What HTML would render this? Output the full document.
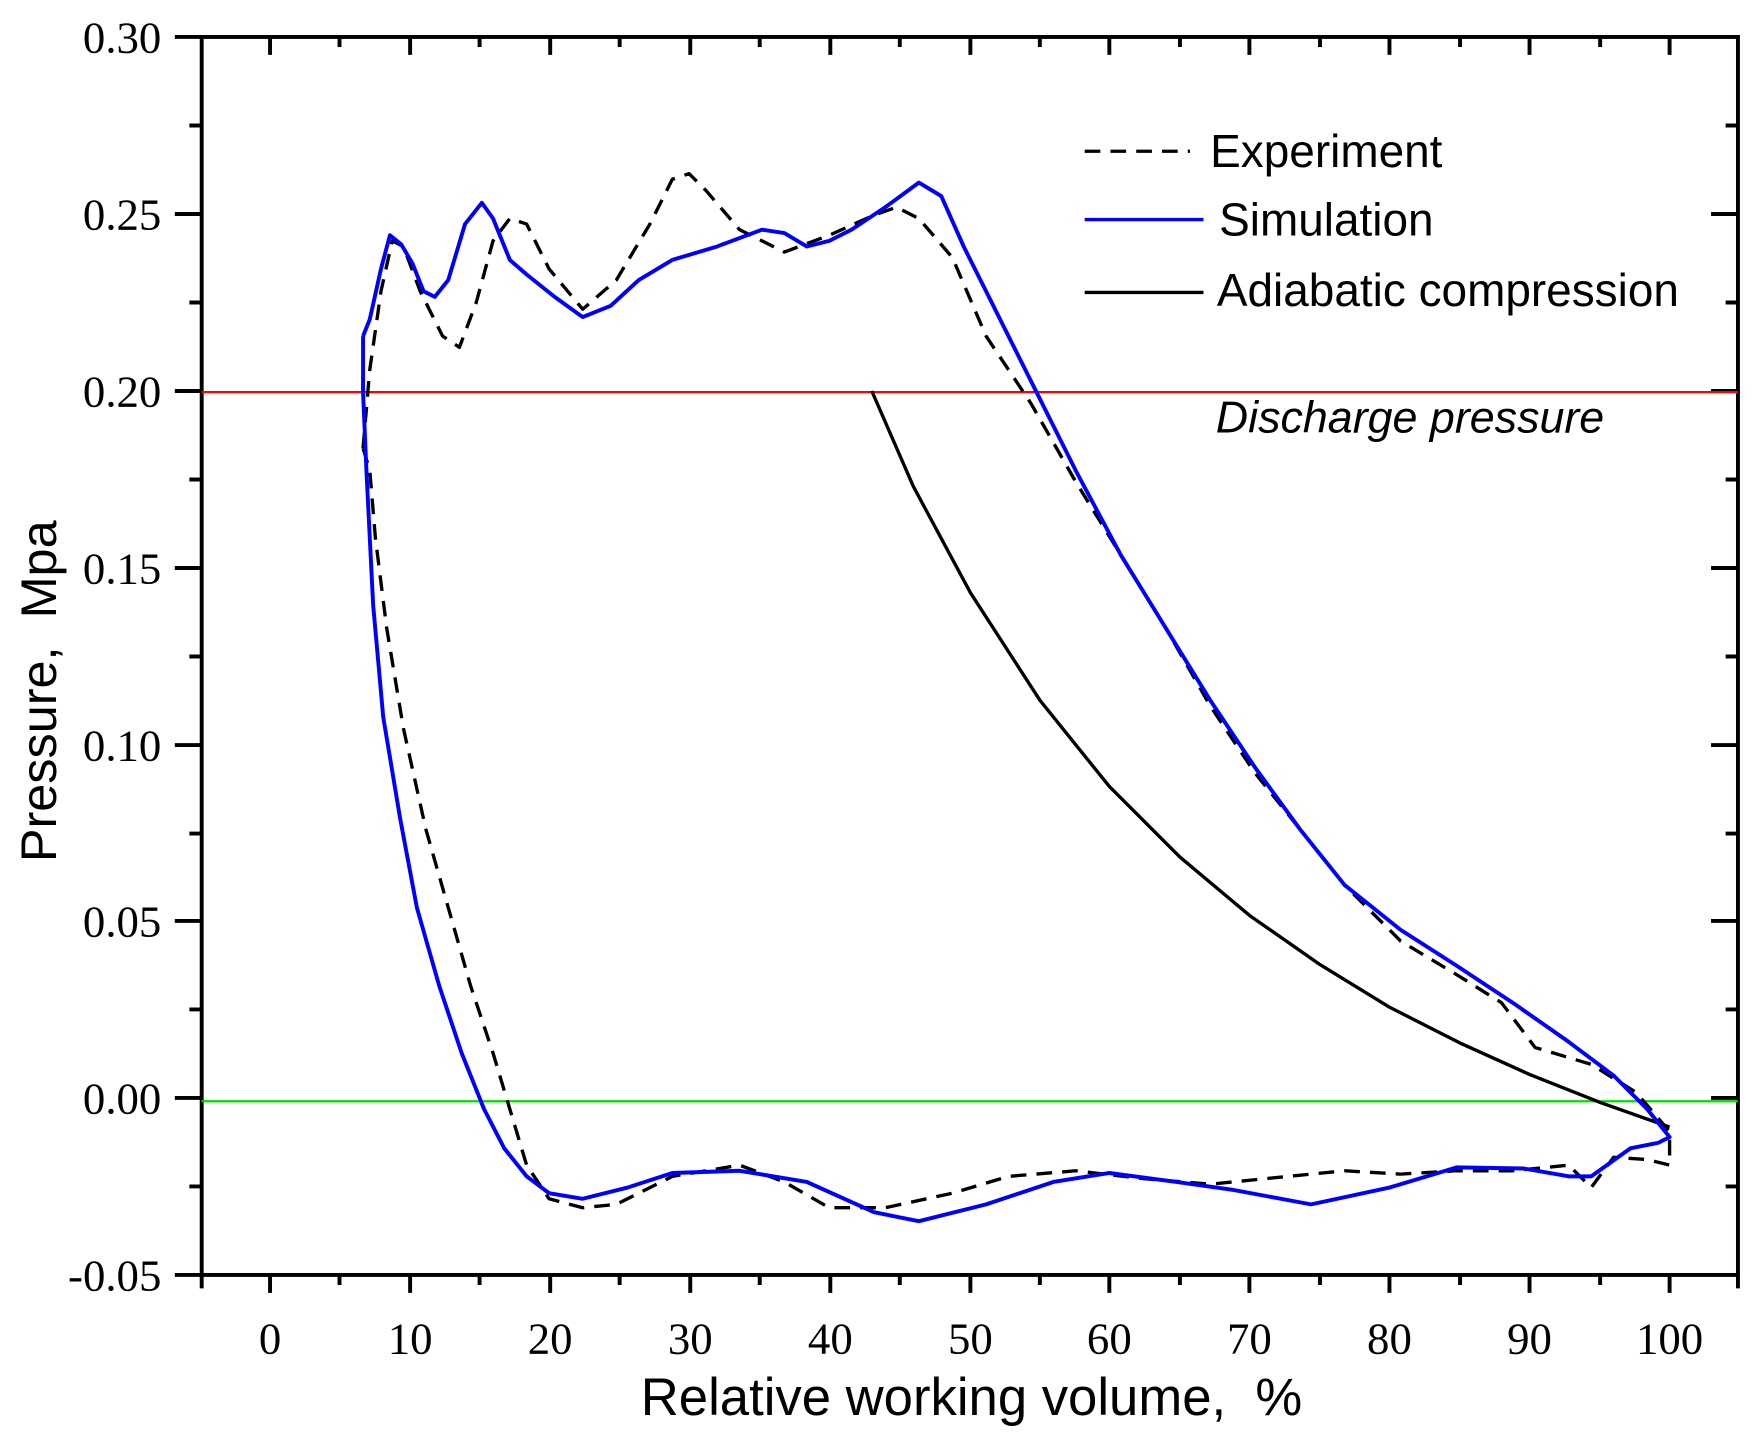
<!DOCTYPE html>
<html><head><meta charset="utf-8"><style>html,body{margin:0;padding:0;background:#fff}svg{display:block}</style></head>
<body>
<svg xmlns="http://www.w3.org/2000/svg" width="1757" height="1443" viewBox="0 0 1568 1288" preserveAspectRatio="none">
<rect width="1568" height="1288" fill="#fff"/>
<g stroke="#000" stroke-width="3.5" fill="none">
<rect x="180" y="33" width="1371" height="1105"/>
<path d="M241 1138v16M366 1138v16M491 1138v16M616 1138v16M741 1138v16M866 1138v16M990 1138v16M1115 1138v16M1240 1138v16M1365 1138v16M1490 1138v16"/>
<path d="M180 1138v12M303 1138v9M428 1138v9M553 1138v9M678 1138v9M803 1138v9M928 1138v9M1053 1138v9M1178 1138v9M1303 1138v9M1428 1138v9M1551 1138v12"/>
<path d="M241 33v16M366 33v16M491 33v16M616 33v16M741 33v16M866 33v16M990 33v16M1115 33v16M1240 33v16M1365 33v16M1490 33v16"/>
<path d="M303 33v9M428 33v9M553 33v9M678 33v9M803 33v9M928 33v9M1053 33v9M1178 33v9M1303 33v9M1428 33v9"/>
<path d="M156 33h24M156 191h24M156 349h24M156 507h24M156 665h24M156 822h24M156 980h24M156 1138h24"/>
<path d="M169 112h11M169 270h11M169 428h11M169 586h11M169 744h11M169 901h11M169 1059h11"/>
<path d="M1551 191h-24M1551 349h-24M1551 507h-24M1551 665h-24M1551 822h-24M1551 980h-24"/>
<path d="M1551 112h-11M1551 270h-11M1551 428h-11M1551 586h-11M1551 744h-11M1551 901h-11M1551 1059h-11"/>
</g>
<line x1="180" y1="350" x2="1551" y2="350" stroke="#f00" stroke-width="2"/>
<line x1="180" y1="983" x2="1551" y2="983" stroke="#0d0" stroke-width="2"/>
<g font-family="Liberation Serif, serif" font-size="40" fill="#000" text-anchor="end">
<text x="144" y="47">0.30</text><text x="144" y="205">0.25</text><text x="144" y="363">0.20</text><text x="144" y="521">0.15</text><text x="144" y="679">0.10</text><text x="144" y="836">0.05</text><text x="144" y="994">0.00</text><text x="144" y="1152">-0.05</text>
</g>
<g font-family="Liberation Serif, serif" font-size="40" fill="#000" text-anchor="middle">
<text x="241" y="1208">0</text><text x="366" y="1208">10</text><text x="491" y="1208">20</text><text x="616" y="1208">30</text><text x="741" y="1208">40</text><text x="866" y="1208">50</text><text x="990" y="1208">60</text><text x="1115" y="1208">70</text><text x="1240" y="1208">80</text><text x="1365" y="1208">90</text><text x="1490" y="1208">100</text>
</g>
<text x="867" y="1263" font-family="Liberation Sans, sans-serif" font-size="47" text-anchor="middle" xml:space="preserve">Relative working volume,  %</text>
<text transform="translate(50,617) rotate(-90)" font-family="Liberation Sans, sans-serif" font-size="45" text-anchor="middle" xml:space="preserve">Pressure,  Mpa</text>
<line x1="968" y1="135" x2="1062" y2="135" stroke="#000" stroke-width="3" stroke-dasharray="14,9"/>
<line x1="968" y1="196" x2="1074" y2="196" stroke="#00f" stroke-width="3"/>
<line x1="968" y1="261" x2="1074" y2="261" stroke="#000" stroke-width="3"/>
<g font-family="Liberation Sans, sans-serif" font-size="41" fill="#000">
<text x="1080" y="149">Experiment</text>
<text x="1088" y="210">Simulation</text>
<text x="1086" y="273">Adiabatic compression</text>
<text x="1085" y="386" font-size="40" font-style="italic">Discharge pressure</text>
</g>
<polyline fill="none" stroke="#000" stroke-width="3" stroke-linejoin="round" points="778,349 815,434 866,529 928,625 990,702 1053,765 1115,817 1178,861 1240,899 1303,931 1365,959 1428,984 1490,1006"/>
<polyline fill="none" stroke="#000" stroke-width="3" stroke-dasharray="14,9" stroke-linejoin="round" points="324,400 330,330 340,260 350,215 360,220 375,260 395,300 410,310 425,270 440,215 455,195 470,200 490,240 520,276 550,250 580,200 600,160 615,155 630,170 660,205 700,225 740,210 780,192 800,185 820,195 850,230 880,300 920,360 960,430 1000,495 1040,560 1080,630 1120,690 1160,740 1200,790 1250,840 1300,870 1340,895 1370,935 1420,950 1460,975 1490,1010 1490,1040 1470,1035 1440,1033 1420,1060 1400,1040 1350,1045 1300,1045 1250,1048 1200,1045 1150,1050 1080,1057 1020,1052 960,1045 900,1050 850,1065 790,1078 740,1078 700,1055 660,1040 600,1050 550,1075 520,1078 490,1070 470,1040 455,990 440,940 420,880 400,810 380,740 360,650 345,560 335,480 330,420 324,400"/>
<polyline fill="none" stroke="#00f" stroke-width="3.5" stroke-linejoin="round" points="324,300 330,285 340,240 348,210 358,218 368,235 378,260 388,265 400,250 415,200 430,181 440,195 455,232 470,245 495,265 520,283 545,273 570,250 600,232 640,220 680,205 700,208 720,220 740,215 760,205 790,185 820,163 840,175 860,220 880,260 900,300 925,350 960,420 1000,495 1040,560 1080,625 1120,685 1160,740 1200,790 1250,830 1300,862 1350,895 1400,930 1440,960 1470,990 1490,1015 1480,1020 1455,1025 1420,1050 1400,1050 1360,1043 1300,1042 1240,1060 1170,1075 1100,1062 1050,1055 990,1047 940,1055 880,1075 820,1090 780,1082 720,1055 660,1045 600,1047 560,1060 520,1070 490,1065 470,1050 450,1025 432,990 412,940 392,880 372,810 357,730 342,640 333,540 327,420 324,350 324,300"/>
</svg>
</body></html>
